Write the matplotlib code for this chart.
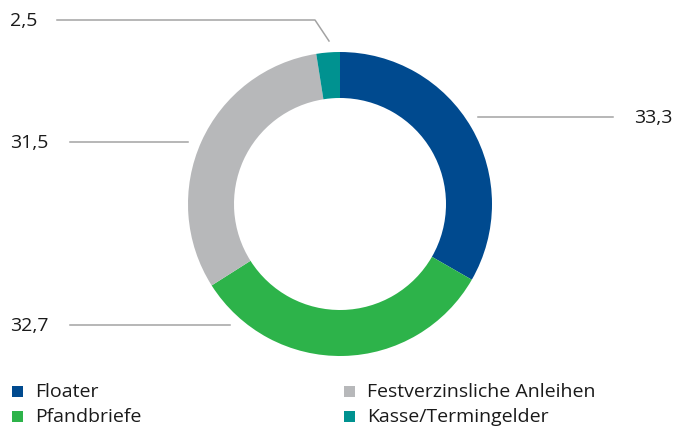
import matplotlib
matplotlib.use("Agg")
import matplotlib.pyplot as plt
from matplotlib.patches import Rectangle

categories = ["Floater", "Pfandbriefe", "Festverzinsliche Anleihen", "Kasse/Termingelder"]
values = [33.3, 32.7, 31.5, 2.5]
value_labels = ["33,3", "32,7", "31,5", "2,5"]
colors = ["#004a8f", "#2db34a", "#b7b8ba", "#009290"]

W, H = 675, 427
fig = plt.figure(figsize=(W / 100, H / 100), dpi=100)
ax = fig.add_axes([0, 0, 1, 1])

plt.rcParams["font.family"] = ["Open Sans", "DejaVu Sans"]
FS = 14

cx, cy, R = 340, H - 205, 152
ax.pie(values, colors=colors, startangle=90, counterclock=False,
       center=(cx, cy), radius=R, wedgeprops=dict(width=46, linewidth=0),
       frame=True)
ax.set_xlim(0, W)
ax.set_ylim(0, H)
ax.set_aspect("equal")
ax.axis("off")

lc = "#a3a3a3"
tc = "#1a1a1a"
def Y(y):
    return H - y

# Floater (right)
ax.plot([478, 613], [Y(118), Y(118)], color=lc, lw=1.1)
ax.text(672, Y(118), value_labels[0], ha="right", va="center", fontsize=FS, color=tc)
# Pfandbriefe
ax.plot([70, 230], [Y(326), Y(326)], color=lc, lw=1.1)
ax.text(10, Y(326), value_labels[1], ha="left", va="center", fontsize=FS, color=tc)
# Festverzinsliche
ax.plot([70, 188], [Y(143), Y(143)], color=lc, lw=1.1)
ax.text(10, Y(143), value_labels[2], ha="left", va="center", fontsize=FS, color=tc)
# Kasse
ax.plot([57, 315, 329], [Y(21), Y(21), Y(42)], color=lc, lw=1.1)
ax.text(10, Y(21), value_labels[3], ha="left", va="center", fontsize=FS, color=tc)

# Legend
pos = [(12, 392), (12, 417), (344, 392), (344, 417)]
for (x, y), cat, col in zip(pos, categories, colors):
    ax.add_patch(Rectangle((x, Y(y) - 5.5), 11, 11, color=col, lw=0))
    ax.text(x + 23, Y(y), cat, ha="left", va="center", fontsize=FS, color=tc)

fig.savefig("out.png", dpi=100)
